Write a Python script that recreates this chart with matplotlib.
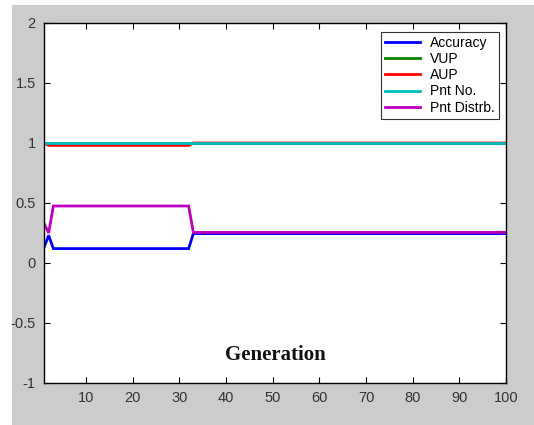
import matplotlib
matplotlib.use("Agg")
import matplotlib.pyplot as plt
from matplotlib.patches import Rectangle
import numpy as np

generations = list(range(1, 101))

# Values
accuracy = [0.13, 0.23] + [0.12] * 30 + [0.245] * 68
vup = [1.0] * 100
aup = [1.0] + [0.98] * 31 + [1.0] * 68
pnt_no = [1.0] * 100
pnt_distrb = [0.33, 0.25] + [0.475] * 30 + [0.255] * 68

series_names = ["Accuracy", "VUP", "AUP", "Pnt No.", "Pnt Distrb."]
series_colors = ["#0000ff", "#008000", "#ff0000", "#00bfbf", "#bf00bf"]
xticks = [10, 20, 30, 40, 50, 60, 70, 80, 90, 100]
yticks = [-1, -0.5, 0, 0.5, 1, 1.5, 2]
ytick_labels = ["-1", "-0.5", "0", "0.5", "1", "1.5", "2"]

fig = plt.figure(figsize=(5.34, 4.25), dpi=100, facecolor="white")
fig.patches.append(Rectangle((12 / 534, 0), 1 - 12 / 534, 1 - 5 / 425,
                             transform=fig.transFigure, facecolor="#cccccc",
                             edgecolor="none", zorder=-10))
ax = fig.add_axes([44 / 534, 1 - 383 / 425, 462 / 534, 360 / 425])
ax.set_zorder(5)
ax.set_facecolor("white")

data = [accuracy, vup, aup, pnt_no, pnt_distrb]
for i in range(len(data)):
    ax.plot(generations, data[i], color=series_colors[i], lw=2.0,
            label=series_names[i], solid_joinstyle="miter")

ax.set_xlim(1, 100)
ax.set_ylim(-1, 2)
ax.set_xticks(xticks)
ax.set_yticks(yticks)
ax.set_yticklabels(ytick_labels)
ax.tick_params(direction="in", top=True, right=True, length=4, width=0.8,
               labelsize=10.5, labelcolor="#333333", pad=6)
for lab in ax.get_xticklabels() + ax.get_yticklabels():
    lab.set_family("Liberation Sans")
for s in ax.spines.values():
    s.set_linewidth(1.0)
    s.set_color("black")

ax.text(0.5, 0.078, "Generation", transform=ax.transAxes, ha="center",
        va="center", fontsize=15, fontweight="bold", family="Liberation Serif",
        color="#111111")

leg = ax.legend(loc="upper right", bbox_to_anchor=(0.9848, 0.975),
                prop={"family": "Liberation Sans", "size": 10},
                frameon=True, fancybox=False, edgecolor="black",
                handlelength=2.5, handletextpad=0.75, labelspacing=0.15,
                borderpad=0.3, borderaxespad=0)
leg.get_frame().set_linewidth(0.8)

fig.savefig("out.png", dpi=100, facecolor="white")
